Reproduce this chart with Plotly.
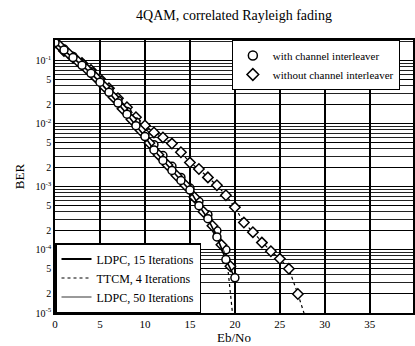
import plotly.graph_objects as go

# ---------------- data ----------------
# LDPC, 15 iterations, with channel interleaver (circles, solid)
ebno_ldpc15 = [0, 1, 2, 3, 4, 5, 6, 7, 8, 9, 10, 11, 12, 13, 14, 15, 16, 17, 18, 19, 20]
ber_ldpc15 = [0.19, 0.145, 0.11, 0.083, 0.062, 0.045, 0.031, 0.021, 0.014, 0.0092,
              0.0062, 0.0038, 0.0026, 0.0018, 0.00125, 0.00088, 0.0005, 0.00031,
              0.00016, 0.00007, 0.000036]

# TTCM, 4 iterations, with channel interleaver (circles, dotted)
ebno_ttcm_il = [0, 1, 2, 3, 4, 5, 6, 7, 8, 9, 10, 11, 12, 13, 14, 15, 16, 17, 18, 19, 19.8]
ber_ttcm_il = [0.2, 0.15, 0.115, 0.088, 0.066, 0.048, 0.034, 0.023, 0.0155, 0.0105,
               0.0068, 0.0046, 0.0031, 0.0021, 0.0014, 0.00095, 0.00058, 0.00036,
               0.0002, 0.0001, 0.000008]

# LDPC, 50 iterations (diamonds, thin solid)
ebno_ldpc50 = [0.5, 1.5, 2.5, 3.5, 4.5, 5.5, 6.5, 7.5, 8.5, 9.5, 10.5, 11.5, 12.5,
               13.5, 14.5, 15.5, 16.5, 17.5, 18.5, 19.5]
ber_ldpc50 = [0.17, 0.128, 0.097, 0.073, 0.054, 0.038, 0.026, 0.017, 0.0115, 0.0078,
              0.0049, 0.0032, 0.0022, 0.0015, 0.00105, 0.00068, 0.0004, 0.00024,
              0.00012, 0.000055]

# TTCM, 4 iterations, without channel interleaver (diamonds, dotted)
ebno_ttcm_noil = [0, 1, 2, 3, 4, 5, 6, 7, 8, 9, 10, 11, 12, 13, 14, 15, 16, 17, 18,
                  19, 20, 21, 22, 23, 24, 25, 26, 27, 27.9]
ber_ttcm_noil = [0.19, 0.14, 0.11, 0.09, 0.07, 0.051, 0.036, 0.025, 0.018, 0.0125,
                 0.0093, 0.0072, 0.006, 0.0048, 0.0035, 0.0024, 0.0019, 0.0014,
                 0.00105, 0.00073, 0.00047, 0.00027, 0.00019, 0.00013, 0.000095,
                 0.000072, 0.00005, 0.00002, 0.000008]

x_ticks = [0, 5, 10, 15, 20, 25, 30, 35, 40]
y_tickvals = [1e-1, 5e-2, 2e-2, 1e-2, 5e-3, 2e-3, 1e-3, 5e-4, 2e-4, 1e-4, 5e-5, 2e-5, 1e-5]
y_ticktext = ["10<sup>-1</sup>", "5", "2", "10<sup>-2</sup>", "5", "2", "10<sup>-3</sup>",
              "5", "2", "10<sup>-4</sup>", "5", "2", "10<sup>-5</sup>"]

FONT = "Liberation Serif"
marker_line = dict(color="black", width=1.5)

fig = go.Figure()


def add_curve(x, y, symbol, dash, width):
    fig.add_trace(go.Scatter(
        x=x, y=y, mode="lines+markers", showlegend=False,
        line=dict(color="black", dash=dash, width=width),
        marker=dict(symbol=symbol, size=8, color="white", line=marker_line),
    ))


add_curve(ebno_ttcm_noil, ber_ttcm_noil, "diamond", "dot", 1.2)
add_curve(ebno_ttcm_il, ber_ttcm_il, "circle", "dot", 1.2)
add_curve(ebno_ldpc50, ber_ldpc50, "diamond", "solid", 0.8)
add_curve(ebno_ldpc15, ber_ldpc15, "circle", "solid", 1.6)

# legend 1: markers
fig.add_trace(go.Scatter(x=[None], y=[None], mode="markers", name="with channel interleaver",
                         marker=dict(symbol="circle", size=9, color="white", line=marker_line),
                         legend="legend"))
fig.add_trace(go.Scatter(x=[None], y=[None], mode="markers", name="without channel interleaver",
                         marker=dict(symbol="diamond", size=9, color="white", line=marker_line),
                         legend="legend"))
# legend 2: line styles
fig.add_trace(go.Scatter(x=[None], y=[None], mode="lines", name="LDPC, 15 Iterations",
                         line=dict(color="black", width=2), legend="legend2"))
fig.add_trace(go.Scatter(x=[None], y=[None], mode="lines", name="TTCM, 4 Iterations",
                         line=dict(color="black", width=1.2, dash="dot"), legend="legend2"))
fig.add_trace(go.Scatter(x=[None], y=[None], mode="lines", name="LDPC, 50 Iterations",
                         line=dict(color="black", width=0.8), legend="legend2"))

minor_vals = [m * 10.0 ** e for e in range(-5, 0) for m in range(2, 10)]

fig.update_layout(
    width=415, height=346,
    margin=dict(l=55, r=0, t=40, b=33),
    paper_bgcolor="white", plot_bgcolor="white",
    font=dict(family=FONT, color="black", size=11),
    title=dict(text="4QAM, correlated Rayleigh fading", x=0.5, xref="paper",
               y=0.955, yanchor="middle", font=dict(family=FONT, size=14)),
    xaxis=dict(range=[0, 39.8], tickvals=x_ticks, showgrid=True, gridcolor="black",
               gridwidth=1.5, zeroline=False, showline=True, linecolor="black",
               linewidth=1.5, mirror=True, ticks="", tickfont=dict(size=11),
               title=dict(text="Eb/No", standoff=0, font=dict(size=13))),
    yaxis=dict(type="log", range=[-5, -0.68], tickvals=y_tickvals, ticktext=y_ticktext,
               showgrid=True, gridcolor="black", gridwidth=1.2, zeroline=False,
               showline=True, linecolor="black", linewidth=1.5, mirror=True, ticks="",
               tickfont=dict(size=10),
               minor=dict(tickvals=minor_vals, showgrid=True, gridcolor="#222",
                          gridwidth=0.8),
               title=dict(text="BER", standoff=8, font=dict(size=13))),
    legend=dict(x=0.494, y=1, xanchor="left", yanchor="top", bgcolor="white",
                bordercolor="black", borderwidth=1, font=dict(family=FONT, size=11),
                itemwidth=30, tracegroupgap=0),
    legend2=dict(x=0, y=0, xanchor="left", yanchor="bottom", bgcolor="white",
                 bordercolor="black", borderwidth=1.5, font=dict(family=FONT, size=12),
                 tracegroupgap=0),
)

fig.write_html(
    "out.html",
    config={"displayModeBar": False},
    post_script="document.body.style.margin='0';document.body.style.overflow='hidden';",
)
